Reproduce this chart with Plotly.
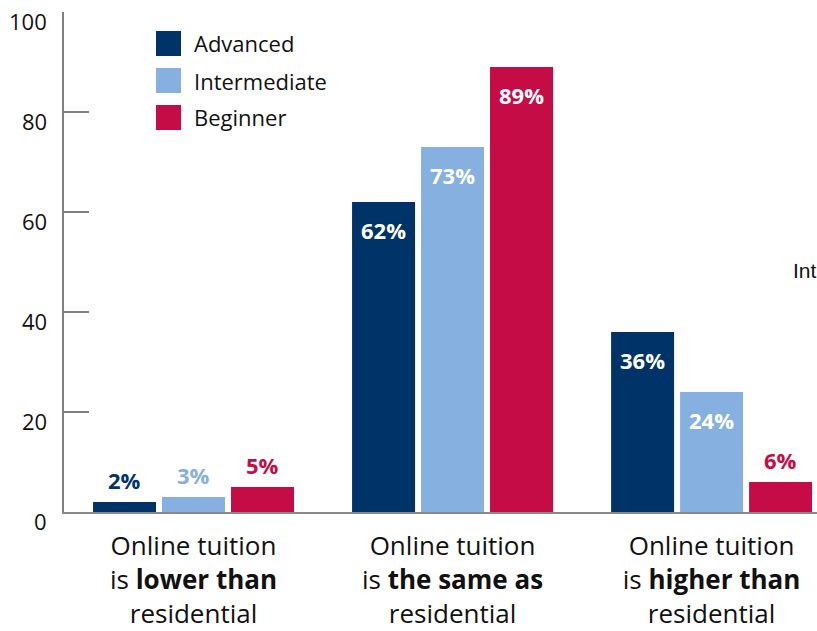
import plotly.graph_objects as go

# Survey results: how online tuition compares with residential tuition
categories = [
    "Online tuition<br>is <b>lower than</b><br>residential",
    "Online tuition<br>is <b>the same as</b><br>residential",
    "Online tuition<br>is <b>higher than</b><br>residential",
]
series_names = ["Advanced", "Intermediate", "Beginner"]
advanced = [2, 62, 36]
intermediate = [3, 73, 24]
beginner = [5, 89, 6]
y_ticks = [0, 20, 40, 60, 80, 100]

colors = ["#003468", "#85B0E0", "#C60C46"]
FONT = "Open Sans"
W, H = 817, 631
ML, MT, MB = 64, 12, 119
plot_w = W - ML
plot_h = H - MT - MB

series = [advanced, intermediate, beginner]

fig = go.Figure()
for name, vals, col in zip(series_names, series, colors):
    fig.add_trace(go.Bar(
        x=categories, y=vals, name=name,
        marker=dict(color=col, line=dict(width=0)),
        showlegend=False, hoverinfo="skip",
    ))

# value labels: white inside tall bars, series-coloured above short ones
slot_px = 69
annotations = []
for k, (vals, col) in enumerate(zip(series, colors)):
    for cat, v in zip(categories, vals):
        inside = v >= 20
        annotations.append(dict(
            x=cat, y=v, xref="x", yref="y",
            text=f"<b>{v}%</b>", showarrow=False,
            xshift=(k - 1) * slot_px,
            yshift=-28 if inside else 22,
            font=dict(family=FONT, size=22, color="white" if inside else col),
        ))

# y tick labels sit slightly below their tick marks
for t in y_ticks:
    annotations.append(dict(
        x=0, y=t, xref="paper", yref="y", text=str(t), showarrow=False,
        xanchor="right", xshift=-15, yshift=-9,
        font=dict(family=FONT, size=22, color="#111111"),
    ))

# legend: coloured squares with series names
shapes = []
for i, (name, col) in enumerate(zip(series_names, colors)):
    top = 31 + i * 37
    shapes.append(dict(
        type="rect", xref="paper", yref="paper",
        x0=(156 - ML) / plot_w, x1=(181 - ML) / plot_w,
        y0=(MT + plot_h - top) / plot_h, y1=(MT + plot_h - top - 25) / plot_h,
        fillcolor=col, line=dict(width=0),
    ))
    annotations.append(dict(
        x=(192 - ML) / plot_w, y=(MT + plot_h - top - 12.5) / plot_h,
        xref="paper", yref="paper", text=name, showarrow=False,
        xanchor="left", yanchor="middle",
        font=dict(family=FONT, size=22, color="#111111"),
    ))

annotations.append(dict(
    x=(791 - ML) / plot_w, y=(MT + plot_h - 270) / plot_h,
    xref="paper", yref="paper", text="Int", showarrow=False,
    xanchor="left", yanchor="middle",
    font=dict(family="Liberation Sans", size=21, color="#111111"),
))

fig.update_layout(
    width=W, height=H,
    margin=dict(l=ML, r=0, t=MT, b=MB, pad=0),
    paper_bgcolor="white", plot_bgcolor="white",
    barmode="group", bargap=0.201, bargroupgap=0.087,
    font=dict(family=FONT, color="#111111"),
    xaxis=dict(
        type="category", range=[-0.5, 2.407],
        showline=True, linecolor="#8a8a8a", linewidth=2,
        ticks="", showgrid=False, zeroline=False,
        tickfont=dict(family=FONT, size=26, color="#111111"),
        ticklabelstandoff=10,
    ),
    yaxis=dict(
        range=[0, 100], tickvals=y_ticks, showticklabels=False,
        ticks="inside", ticklen=25, tickwidth=1.5, tickcolor="#808080",
        showline=True, linecolor="#808080", linewidth=1.5,
        showgrid=False, zeroline=False,
    ),
    annotations=annotations, shapes=shapes,
)

fig.write_html("out.html")
